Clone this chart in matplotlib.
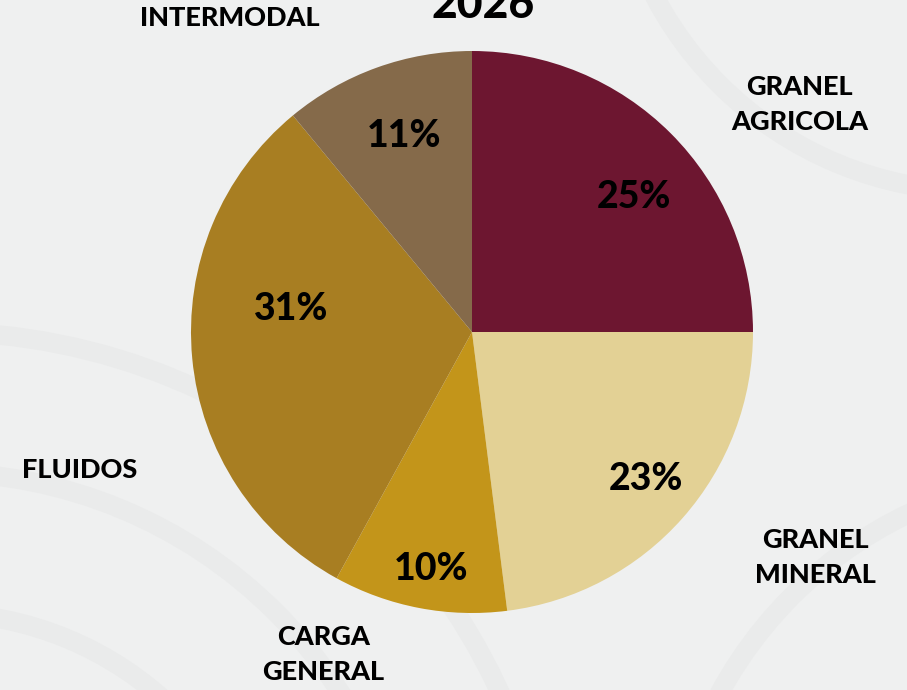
import matplotlib.pyplot as plt

# datos del grafico
categorias = ['GRANEL\nAGRICOLA', 'GRANEL\nMINERAL', 'CARGA\nGENERAL', 'FLUIDOS', 'INTERMODAL']
valores = [25, 23, 10, 31, 11]
colores = ['#6D1630', '#E3D195', '#C3951A', '#A87E22', '#856A4A']
titulo = '2026'

# posiciones de las etiquetas (en coordenadas del pie, radio = 1)
pct_xy = [(0.577, 0.441), (0.619, -0.563), (-0.146, -0.883), (-0.644, 0.043), (-0.242, 0.658)]
etiqueta_xy = [(1.167, 0.811), (1.221, -0.804), (-0.530, -1.149), (-1.395, -0.491), (-0.861, 1.117)]

plt.rcParams['font.family'] = ['Lato', 'DejaVu Sans']

W, H = 907, 690
fig = plt.figure(figsize=(W / 100, H / 100), dpi=100)
fig.patch.set_facecolor('#EFF0F0')

cx, cy, r = 472, 332, 281
ax = fig.add_axes([(cx - r) / W, (H - cy - r) / H, 2 * r / W, 2 * r / H])
ax.axis('off')

# fondo con arcos suaves
for xc, yc, rr in [(-1.9, -2.2, 2.2), (-1.9, -2.2, 1.7), (-1.9, -2.2, 1.2), (1.8, 1.8, 1.3), (2.2, -2.0, 1.5)]:
    ax.add_patch(plt.Circle((xc, yc), rr, fill=False, lw=14, ec='#EAEBEB', clip_on=False, zorder=0))

wedges, _ = ax.pie(valores, colors=colores, startangle=90, counterclock=False,
                   radius=1, wedgeprops=dict(linewidth=0))
ax.set_xlim(-1, 1)
ax.set_ylim(-1, 1)
ax.set_aspect('equal')

for v, (x, y) in zip(valores, pct_xy):
    ax.text(x, y, f'{v}%', ha='center', va='baseline',
            fontsize=27, fontweight='black', color='black')

for lab, (x, y) in zip(categorias, etiqueta_xy):
    ax.text(x, y, lab, ha='center', va='center', fontsize=19.5, fontweight='black',
            color='black', linespacing=1.55, clip_on=False)

fig.text(483 / W, 1 - 18 / H, titulo, ha='center', va='baseline', fontsize=32, fontweight='black')

fig.savefig('out.png', dpi=100, facecolor=fig.get_facecolor())
